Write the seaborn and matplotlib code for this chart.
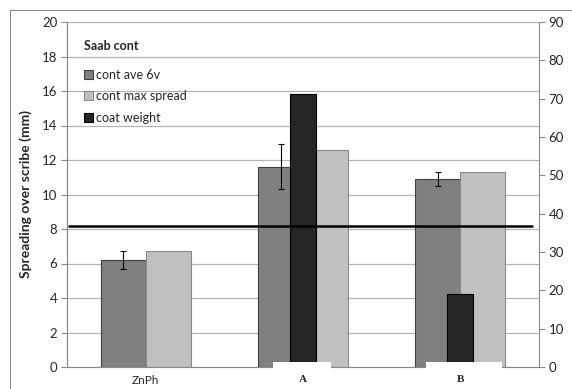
import numpy as np
import pandas as pd
import matplotlib
matplotlib.use("Agg")
import matplotlib.pyplot as plt
import matplotlib.transforms as mtransforms
from matplotlib.patches import Patch, Rectangle
import seaborn as sns

# -----------------------------
# data
# -----------------------------
coatings = ["ZnPh", "A", "B"]
cont_ave_6v = [6.22, 11.61, 10.91]
cont_ave_err = [0.53, 1.30, 0.41]
cont_max_spread = [6.70, 12.58, 11.32]
coat_weight_coatings = ["A", "B"]
coat_weight = [71.2, 19.0]          # right axis
reference_level = 8.15               # left axis, horizontal line

series_names = ["cont ave 6v", "cont max spread", "coat weight"]
colors = ["#808080", "#c0c0c0", "#262626"]
edges = ["#404040", "#8a8a8a", "#000000"]

df = pd.DataFrame({
    "coating": coatings * 2,
    "series": [series_names[0]] * 3 + [series_names[1]] * 3,
    "value": cont_ave_6v + cont_max_spread,
})
df_cw = pd.DataFrame({"coating": coat_weight_coatings, "weight": coat_weight})

# -----------------------------
# style
# -----------------------------
sns.set_style("white")
plt.rcParams["font.family"] = ["Lato", "DejaVu Sans"]
grid_col = "#b4b4b4"
axis_col = "#888888"

fig = plt.figure(figsize=(5.72, 3.89), dpi=100)
ax = fig.add_axes([67 / 572, 22 / 389, 472 / 572, 345 / 389])

# outer chart border
fig.patches.append(Rectangle((9.5 / 572, -0.1), 1.2, (389 - 9.5) / 389 + 0.1,
                             transform=fig.transFigure, fill=False,
                             edgecolor="#8c8c8c", linewidth=0.8))

# -----------------------------
# primary bars
# -----------------------------
sns.barplot(data=df, x="coating", y="value", hue="series", order=coatings,
            hue_order=series_names[:2], palette=colors[:2], width=0.57,
            errorbar=None, legend=False, saturation=1, ax=ax)
for cont, ec in zip(ax.containers, edges[:2]):
    for p in cont:
        p.set_edgecolor(ec)
        p.set_linewidth(0.8)

xs = [p.get_x() + p.get_width() / 2 for p in ax.containers[0]]
ax.errorbar(xs, cont_ave_6v, yerr=cont_ave_err, fmt="none", ecolor="black",
            elinewidth=0.8, capsize=2.2, capthick=0.8, zorder=4)

ax.set_ylim(0, 20)
ax.set_yticks(np.arange(0, 21, 2))
ax.yaxis.grid(True, color=grid_col, linewidth=0.9)
ax.set_axisbelow(True)
ax.set_ylabel("Spreading over scribe (mm)", fontsize=10, fontweight="bold",
              labelpad=7)
ax.set_xlabel("")

# -----------------------------
# secondary axis: coat weight
# -----------------------------
ax2 = ax.twinx()
sns.barplot(data=df_cw, x="coating", y="weight", order=coatings,
            color=colors[2], width=0.165, errorbar=None, saturation=1, ax=ax2)
for p in ax2.patches:
    p.set_edgecolor(edges[2])
    p.set_linewidth(0.8)
ax2.set_ylim(0, 90)
ax2.set_yticks(np.arange(0, 91, 10))
ax2.set_ylabel("")
ax2.set_xlabel("")

ax2.axhline(reference_level * 90 / 20, xmin=0.004, xmax=0.985, color="black",
            linewidth=1.8, zorder=6)

# x axis: ticks at category boundaries, labels at centres
ax.set_xlim(-0.5, 2.5)
ax.set_xticks(range(len(coatings)))
ax.set_xticks(np.arange(-0.5, 3, 1), minor=True)
ax.set_xticklabels(coatings)
ax.tick_params(axis="x", which="major", length=0, pad=6, labelsize=8.5)
ax.tick_params(axis="x", which="minor", length=4, color=axis_col, width=0.8)
for lbl in ax.get_xticklabels()[1:]:
    lbl.set_fontfamily(["Liberation Serif", "DejaVu Serif"])
    lbl.set_fontweight("bold")
    lbl.set_fontsize(8)

ax.tick_params(axis="y", length=4, color=axis_col, width=0.8, labelsize=9.5,
               pad=3)
ax2.tick_params(axis="y", length=4, color=axis_col, width=0.8, labelsize=9.5,
                pad=3)

for a in (ax, ax2):
    a.spines["top"].set_visible(False)
    for s in ("left", "right", "bottom"):
        a.spines[s].set_color(axis_col)
        a.spines[s].set_linewidth(0.8)
ax2.spines["bottom"].set_visible(False)
ax.spines["right"].set_visible(False)

# white text-box patches sitting over the axis under A and B
trans = mtransforms.blended_transform_factory(ax.transData, ax.transAxes)
for x0, x1 in [(0.807, 1.178), (1.782, 2.265)]:
    ax2.add_patch(Rectangle((x0, -0.008), x1 - x0, 0.022, transform=trans,
                            facecolor="white", edgecolor="none",
                            clip_on=False, zorder=7))

# legend
handles = [Patch(facecolor=c, edgecolor=e, linewidth=0.8)
           for c, e in zip(colors, edges)]
leg = ax2.legend(handles, series_names, title="Saab cont", loc="upper left",
                 bbox_to_anchor=(0.012, 0.98), frameon=False, fontsize=9,
                 title_fontproperties={"weight": "bold", "size": 9},
                 handlelength=0.7, handleheight=0.7, handletextpad=0.3,
                 labelspacing=0.75, alignment="left")
leg._legend_box.sep = 12

plt.savefig("out.png", dpi=100)
plt.close()
